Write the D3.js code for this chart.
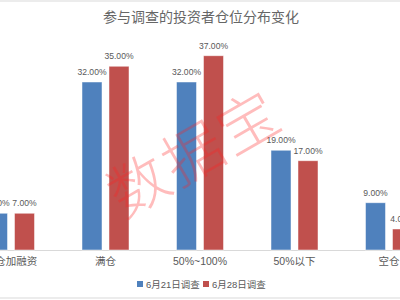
<!DOCTYPE html>
<html>
<head>
<meta charset="utf-8">
<script src="https://cdn.jsdelivr.net/npm/d3@7"></script>
<style>
  body { margin: 0; background: #fff; }
  svg { display: block; }
</style>
</head>
<body>
<div id="chart"></div>
<script>
// data
const categories = ['满仓加融资', '满仓', '50%~100%', '50%以下', '空仓'];
const seriesNames = ['6月21日调查', '6月28日调查'];
const june21 = [7, 32, 32, 19, 9];
const june28 = [7, 35, 37, 17, 4];
const colors = ['#4f81bd', '#c0504d'];

const width = 400, height = 300;
const baseY = 250;

const svg = d3.select('#chart').append('svg')
  .attr('width', width)
  .attr('height', height);

// frame lines
svg.append('line').attr('x1', 0).attr('x2', width).attr('y1', 1).attr('y2', 1)
  .attr('stroke', '#d9d9d9');
svg.append('line').attr('x1', 0).attr('x2', width).attr('y1', 298).attr('y2', 298)
  .attr('stroke', '#d9d9d9');

// scales
const x0 = d3.scaleBand().domain(categories).range([-36.25, 436.25]);
const x1 = d3.scaleBand().domain(seriesNames).range([23.75, 70.75]).paddingInner(7 / 27);
const y = d3.scaleLinear().domain([0, 40]).range([baseY, baseY - 210]);

// title
svg.append('text')
  .attr('x', 201).attr('y', 22)
  .attr('text-anchor', 'middle')
  .attr('font-family', 'Noto Sans CJK SC')
  .attr('font-size', 14)
  .attr('fill', '#666')
  .text('参与调查的投资者仓位分布变化');

// baseline
svg.append('line')
  .attr('x1', 0).attr('x2', width)
  .attr('y1', baseY + 0.5).attr('y2', baseY + 0.5)
  .attr('stroke', '#d9d9d9');

const rows = categories.map((c, i) => ({
  cat: c,
  vals: [
    { s: seriesNames[0], v: june21[i], c: colors[0] },
    { s: seriesNames[1], v: june28[i], c: colors[1] }
  ]
}));

const groups = svg.append('g').selectAll('g')
  .data(rows)
  .enter()
  .append('g')
  .attr('transform', d => 'translate(' + x0(d.cat) + ',0)');

groups.selectAll('rect')
  .data(d => d.vals)
  .enter()
  .append('rect')
  .attr('x', d => x1(d.s))
  .attr('y', d => y(d.v))
  .attr('width', x1.bandwidth())
  .attr('height', d => baseY - y(d.v))
  .attr('fill', d => d.c)
  .attr('stroke', '#fff')
  .attr('stroke-opacity', 0.6)
  .attr('stroke-width', 0.8);

groups.selectAll('text.val')
  .data(d => d.vals)
  .enter()
  .append('text')
  .attr('class', 'val')
  .attr('x', d => x1(d.s) + x1.bandwidth() / 2)
  .attr('y', d => y(d.v) - 7)
  .attr('text-anchor', 'middle')
  .attr('font-family', 'Liberation Sans, Arial')
  .attr('font-size', 8.6)
  .attr('fill', '#595959')
  .text(d => d.v.toFixed(2) + '%');

// category labels
svg.append('g').selectAll('text')
  .data(categories)
  .enter()
  .append('text')
  .attr('x', d => x0(d) + x0.bandwidth() / 2)
  .attr('y', 265)
  .attr('text-anchor', 'middle')
  .attr('font-family', 'Liberation Sans, Noto Sans CJK SC')
  .attr('font-size', 10.5)
  .attr('fill', '#595959')
  .text(d => d);

// legend
const legendX = [137, 203];
const legend = svg.append('g').selectAll('g')
  .data(seriesNames)
  .enter()
  .append('g')
  .attr('transform', (d, i) => 'translate(' + legendX[i] + ',281)');
legend.append('rect')
  .attr('width', 6).attr('height', 6)
  .attr('fill', (d, i) => colors[i]);
legend.append('text')
  .attr('x', 9).attr('y', 6.5)
  .attr('font-family', 'Liberation Sans, Noto Sans CJK SC')
  .attr('font-size', 9.5)
  .attr('fill', '#595959')
  .text(d => d);

// watermark
svg.append('text')
  .attr('transform', 'translate(192,149) rotate(-30)')
  .attr('text-anchor', 'middle')
  .attr('dominant-baseline', 'central')
  .attr('font-family', 'Noto Sans CJK SC')
  .attr('font-weight', 300)
  .attr('font-size', 60)
  .attr('letter-spacing', 3)
  .attr('fill', '#ff2020')
  .attr('fill-opacity', 0.3)
  .text('数据宝');
</script>
</body>
</html>
